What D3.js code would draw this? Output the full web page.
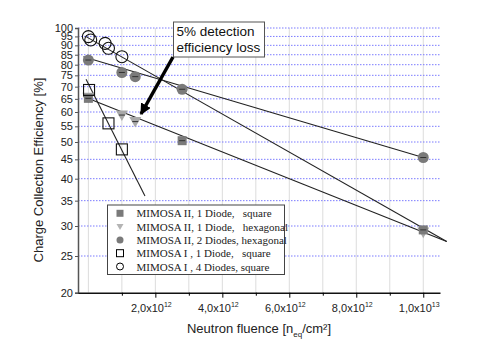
<!DOCTYPE html>
<html>
<head>
<meta charset="utf-8">
<script src="https://cdn.jsdelivr.net/npm/d3@7"></script>
<style>
  body { margin: 0; background: #fff; }
  svg { font-family: "Liberation Sans", Arial, sans-serif; }
</style>
</head>
<body>
<div id="chart"></div>
<script>
// fluence in 1e12 n_eq/cm2, efficiency in %
const mimosa2Square = [[0, 65.2], [2.8, 50.4], [10, 29.3]]
const mimosa2Hex1 = [[0, 65.6], [1.0, 58.9], [1.4, 56.6], [10, 28.9]]
const mimosa2Hex2 = [[0, 82.3], [1.0, 76.3], [1.4, 74.4], [2.8, 68.9], [10, 45.5]]
const mimosa1Square = [[0.02, 68.6], [0.6, 56.0], [1.0, 47.8]]
const mimosa1Four = [[0, 94.9], [0.07, 93.0], [0.5, 91.1], [0.6, 88.4], [1.0, 84.0]]

// exponential fits, drawn as straight lines on the log axis
const fitSquare = [[-0.15, 65.9], [10.7, 27.3]]
const fitHex2 = [[-0.15, 84.0], [10, 45.5]]
const fitFour = [[-0.07, 94.9], [10.7, 27.3]]
const fitMimosa1 = [[-0.07, 73.2], [1.69, 36.0]]

const yTicks = [20, 25, 30, 35, 40, 45, 50, 55, 60, 65, 70, 75, 80, 85, 90, 95, 100]
const xMajor = [2, 4, 6, 8, 10]
const xMinor = [1, 3, 5, 7, 9]
const xGrid = [0, 1, 2, 3, 4, 5, 6, 7, 8, 9, 10]
const xTickBase = ['2,0x10', '4,0x10', '6,0x10', '8,0x10', '1,0x10']
const xTickExp = ['12', '12', '12', '12', '13']

const legendItems = [
  { sym: 'square', fill: '#7a7a7a', stroke: 'none', label: 'MIMOSA II, 1 Diode,   square' },
  { sym: 'tri', fill: '#b4b4b4', stroke: 'none', label: 'MIMOSA II, 1 Diode,   hexagonal' },
  { sym: 'circle', fill: '#7a7a7a', stroke: 'none', label: 'MIMOSA II, 2 Diodes, hexagonal' },
  { sym: 'square', fill: 'none', stroke: '#000', label: 'MIMOSA I , 1 Diode,   square' },
  { sym: 'circle', fill: 'none', stroke: '#000', label: 'MIMOSA I , 4 Diodes, square' }
]

const W = 479, H = 359
const x = d3.scaleLinear().domain([-0.31, 10.5]).range([78, 440])
const y = d3.scaleLog().domain([20, 100]).range([292.7, 28])

const svg = d3.select('#chart').append('svg')
    .attr('width', W)
    .attr('height', H)

// grid
svg.append('g').selectAll('line')
    .data(xGrid)
  .enter().append('line')
    .attr('x1', d => x(d)).attr('x2', d => x(d))
    .attr('y1', y(100)).attr('y2', y(20))
    .attr('stroke', '#dcdcdc')
    .attr('stroke-width', 1)

svg.append('g').selectAll('line')
    .data(yTicks.filter(d => d > 20))
  .enter().append('line')
    .attr('x1', x.range()[0]).attr('x2', x.range()[1])
    .attr('y1', d => y(d)).attr('y2', d => y(d))
    .attr('stroke', '#7b7bff')
    .attr('stroke-width', 1)
    .attr('stroke-dasharray', '1.5,1.5')

// axes
const yAxis = d3.axisLeft(y)
    .tickValues(yTicks)
    .tickFormat(d3.format('d'))
    .tickSize(3)
    .tickPadding(2)

const gy = svg.append('g')
    .attr('transform', 'translate(' + x.range()[0] + ',0)')
    .call(yAxis)
gy.select('.domain').attr('stroke', '#555').attr('stroke-width', 1.5)
gy.selectAll('.tick line').attr('stroke', '#555')
gy.selectAll('.tick text')
    .attr('font-size', 11)
    .style('font-family', '"Liberation Sans", Arial, sans-serif')
    .attr('fill', '#222')

const gx = svg.append('g')
    .attr('transform', 'translate(0,' + y(20) + ')')
    .call(d3.axisBottom(x).tickValues(xMajor).tickFormat('').tickSize(5).tickSizeOuter(0))
gx.select('.domain').attr('stroke', '#111').attr('stroke-width', 1.5)

svg.append('g')
    .attr('transform', 'translate(0,' + y(20) + ')')
    .call(d3.axisBottom(x).tickValues(xMinor).tickFormat('').tickSize(3).tickSizeOuter(0))
  .select('.domain').remove()

const xl = svg.append('g').selectAll('text')
    .data(xMajor)
  .enter().append('text')
    .attr('x', d => x(d) - 4)
    .attr('y', y(20) + 19)
    .attr('text-anchor', 'middle')
    .attr('font-size', 11)
    .attr('fill', '#222')
xl.append('tspan').text((d, i) => xTickBase[i])
xl.append('tspan')
    .attr('dy', -5)
    .attr('font-size', 7)
    .text((d, i) => xTickExp[i])

// axis titles
svg.append('text')
    .attr('transform', 'translate(43,170) rotate(-90)')
    .attr('text-anchor', 'middle')
    .attr('font-size', 13)
    .attr('fill', '#222')
    .text('Charge Collection Efficiency [%]')

const xt = svg.append('text')
    .attr('x', 259)
    .attr('y', 333)
    .attr('text-anchor', 'middle')
    .attr('font-size', 13)
    .attr('fill', '#222')
xt.append('tspan').text('Neutron fluence [n')
xt.append('tspan').attr('dy', 4).attr('font-size', 8).text('eq')
xt.append('tspan').attr('dy', -4).text('/cm²]')

// fit lines
const line = d3.line().x(d => x(d[0])).y(d => y(d[1]))
svg.append('g').selectAll('path')
    .data([fitSquare, fitHex2, fitFour, fitMimosa1])
  .enter().append('path')
    .attr('d', line)
    .attr('fill', 'none')
    .attr('stroke', '#222')
    .attr('stroke-width', 1.1)

// markers
function symbol (g, type, size) {
  if (type === 'circle') return g.append('circle').attr('r', size / 2)
  if (type === 'square') return g.append('rect').attr('x', -size / 2).attr('y', -size / 2).attr('width', size).attr('height', size)
  return g.append('path').attr('d', 'M' + (-size / 2) + ',' + (-size / 2.6) + 'L' + (size / 2) + ',' + (-size / 2.6) + 'L0,' + (size / 2) + 'Z')
}

function drawSeries (data, type, size, fill, stroke, bar) {
  const g = svg.append('g').selectAll('g')
      .data(data)
    .enter().append('g')
      .attr('transform', d => 'translate(' + x(d[0]) + ',' + y(d[1]) + ')')
  g.each(function () {
    symbol(d3.select(this), type, size)
      .attr('fill', fill)
      .attr('stroke', stroke)
      .attr('stroke-width', 1.1)
  })
  if (bar) {
    g.append('line')
        .attr('x1', -3).attr('x2', 3)
        .attr('y1', 0).attr('y2', 0)
        .attr('stroke', '#333')
        .attr('stroke-width', 1)
  }
}

drawSeries(mimosa2Hex1, 'tri', 12, '#a8a8a8', 'none', true)
drawSeries(mimosa2Square, 'square', 9, '#7a7a7a', 'none', true)
drawSeries(mimosa2Hex2, 'circle', 11, '#7a7a7a', 'none', true)
drawSeries(mimosa1Square, 'square', 11, 'none', '#111', false)
drawSeries(mimosa1Four, 'circle', 12, 'none', '#111', false)

// annotation box and arrow
svg.append('rect')
    .attr('x', 173.5).attr('y', 22)
    .attr('width', 91).attr('height', 35)
    .attr('fill', '#fff')
    .attr('stroke', '#555')
    .attr('stroke-width', 1)
svg.append('text')
    .attr('x', 176.5).attr('y', 36)
    .attr('font-size', 13.5)
    .attr('fill', '#111')
    .text('5% detection')
svg.append('text')
    .attr('x', 176.5).attr('y', 51.5)
    .attr('font-size', 13.5)
    .attr('fill', '#111')
    .text('efficiency loss')

svg.append('defs').append('marker')
    .attr('id', 'head')
    .attr('viewBox', '0 0 10 10')
    .attr('refX', 9).attr('refY', 5)
    .attr('markerWidth', 3.2).attr('markerHeight', 3.2)
    .attr('markerUnits', 'strokeWidth')
    .attr('orient', 'auto')
  .append('path')
    .attr('d', 'M0,0L10,5L0,10Z')
    .attr('fill', '#000')

svg.append('line')
    .attr('x1', 173).attr('y1', 57)
    .attr('x2', 141).attr('y2', 114)
    .attr('stroke', '#000')
    .attr('stroke-width', 3.5)
    .attr('marker-end', 'url(#head)')

// legend
const lg = svg.append('g').attr('transform', 'translate(107.5,205)')
lg.append('rect')
    .attr('width', 177).attr('height', 69.5)
    .attr('fill', '#fff')
    .attr('stroke', '#444')
    .attr('stroke-width', 1)
const li = lg.selectAll('g.item')
    .data(legendItems)
  .enter().append('g')
    .attr('class', 'item')
    .attr('transform', (d, i) => 'translate(12.5,' + (8.3 + i * 13.3) + ')')
li.each(function (d) {
  symbol(d3.select(this), d.sym, 7)
    .attr('fill', d.fill)
    .attr('stroke', d.stroke)
    .attr('stroke-width', 1)
})
li.append('text')
    .attr('x', 16.5)
    .attr('y', 4)
    .attr('font-size', 11)
    .style('font-family', '"Liberation Serif", "Times New Roman", serif')
    .style('white-space', 'pre')
    .attr('fill', '#222')
    .text(d => d.label)
</script>
</body>
</html>
